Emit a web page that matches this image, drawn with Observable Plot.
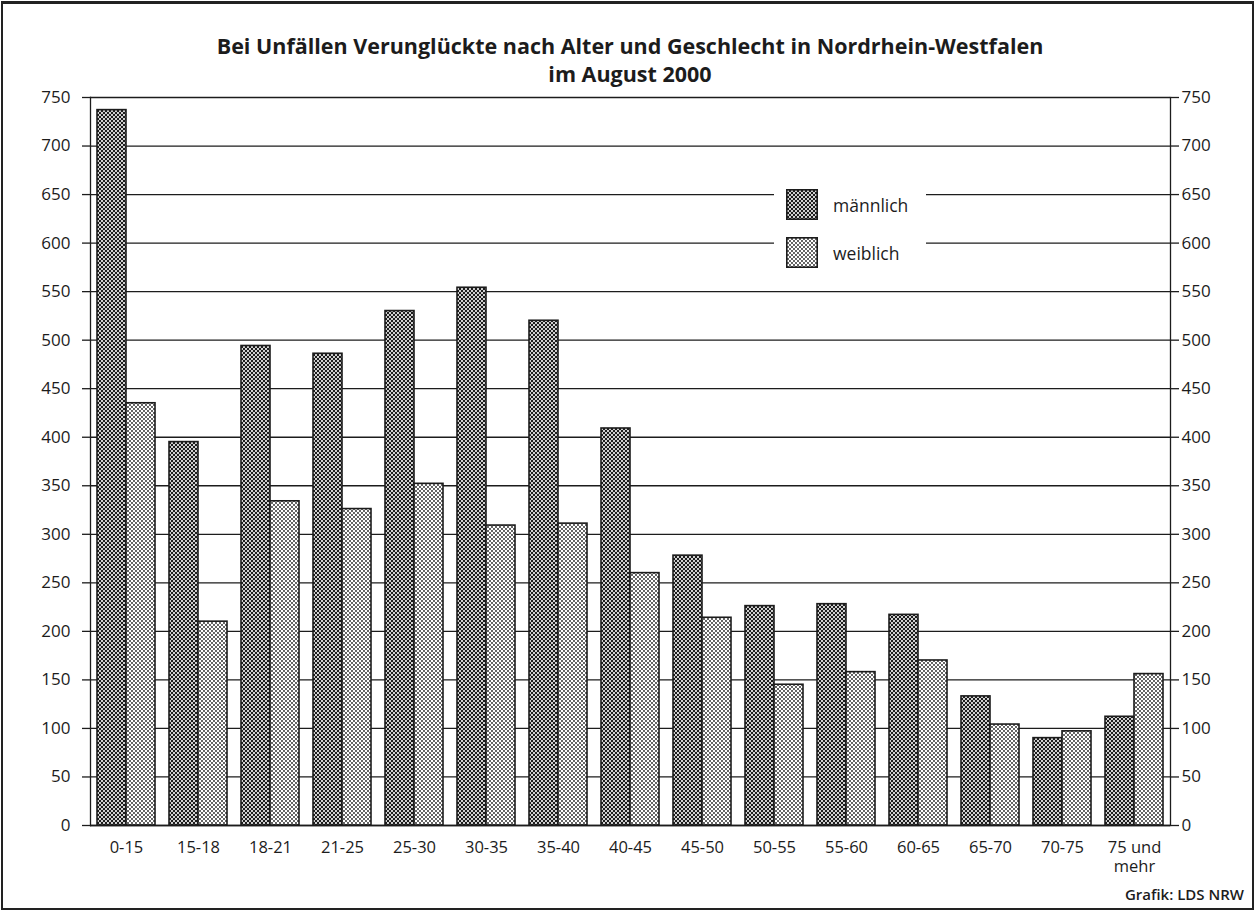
<!DOCTYPE html>
<html>
<head>
<meta charset="utf-8">
<script src="https://cdn.jsdelivr.net/npm/d3@7"></script>
<script src="https://cdn.jsdelivr.net/npm/@observablehq/plot@0.6"></script>
<style>
  html, body { margin: 0; padding: 0; background: #fff; }
  #wrap { position: relative; width: 1255px; height: 917px; font-family: "Open Sans", "Noto Sans", sans-serif; color: #1c1c1c; }
  #border { position: absolute; left: 1px; top: 1px; width: 1249px; height: 904px; border: 2px solid #222; border-top-width: 3px; }
  #title { position: absolute; left: 88px; width: 1084px; top: 32px; text-align: center; font-weight: 700; font-size: 21.5px; line-height: 28px; }
  #chart { position: absolute; left: 0; top: 85px; }
  #legend { position: absolute; left: 774px; top: 176px; width: 152px; height: 104px; background: #fff; }
  .item { position: absolute; left: 12px; display: flex; align-items: center; font-size: 17.5px; }
  .item svg { margin-right: 15px; }
  #credit { position: absolute; right: 11px; top: 884px; font-size: 15px; font-weight: 600; }
</style>
</head>
<body>
<svg width="0" height="0" style="position:absolute">
  <defs>
    <pattern id="patM" patternUnits="userSpaceOnUse" width="4" height="4">
      <rect width="4" height="4" fill="#1c1c1c"></rect>
      <circle cx="0" cy="0" r="1.05" fill="#fff"></circle>
      <circle cx="4" cy="0" r="1.05" fill="#fff"></circle>
      <circle cx="0" cy="4" r="1.05" fill="#fff"></circle>
      <circle cx="4" cy="4" r="1.05" fill="#fff"></circle>
      <circle cx="2" cy="2" r="1.05" fill="#fff"></circle>
    </pattern>
    <pattern id="patW" patternUnits="userSpaceOnUse" width="4" height="4">
      <rect width="4" height="4" fill="#fff"></rect>
      <circle cx="0" cy="0" r="0.9" fill="#1c1c1c"></circle>
      <circle cx="4" cy="0" r="0.9" fill="#1c1c1c"></circle>
      <circle cx="0" cy="4" r="0.9" fill="#1c1c1c"></circle>
      <circle cx="4" cy="4" r="0.9" fill="#1c1c1c"></circle>
      <circle cx="2" cy="2" r="0.9" fill="#1c1c1c"></circle>
    </pattern>
  </defs>
</svg>
<div id="wrap">
  <div id="border"></div>
  <div id="title">Bei Unfällen Verunglückte nach Alter und Geschlecht in Nordrhein-Westfalen<br>im August 2000</div>
  <div id="chart"></div>
  <div id="legend"></div>
  <div id="credit">Grafik: LDS NRW</div>
</div>
<script>
const ageGroups = ["0-15", "15-18", "18-21", "21-25", "25-30", "30-35", "35-40", "40-45", "45-50", "50-55", "55-60", "60-65", "65-70", "70-75", "75 und mehr"];
const maennlich = [737, 395, 494, 486, 530, 554, 520, 409, 278, 226, 228, 217, 133, 90, 112];
const weiblich  = [435, 210, 334, 326, 352, 309, 311, 260, 214, 145, 158, 170, 104, 97, 156];
const seriesNames = ["männlich", "weiblich"];
const seriesFills = ["url(#patM)", "url(#patW)"];
const yTicks = d3.range(0, 751, 50);

const rows = [];
ageGroups.forEach((g, i) => {
  rows.push({age: g, sex: seriesNames[0], value: maennlich[i]});
  rows.push({age: g, sex: seriesNames[1], value: weiblich[i]});
});

const ink = "#1c1c1c";
const chart = Plot.plot({
  width: 1255,
  height: 800,
  marginTop: 12,
  marginBottom: 60,
  marginLeft: 88,
  marginRight: 83,
  style: {fontFamily: "'Open Sans', 'Noto Sans', sans-serif", fontSize: "17px", color: ink, background: "transparent"},
  fx: {domain: ageGroups, padding: 0, label: null},
  x: {domain: seriesNames, paddingInner: 0, paddingOuter: 0.238, axis: null},
  y: {domain: [0, 750], label: null},
  marks: [
    Plot.ruleY(yTicks, {stroke: ink, strokeWidth: 1.3}),
    Plot.barY(rows, {fx: "age", x: "sex", y: "value", fill: (d) => seriesFills[seriesNames.indexOf(d.sex)], stroke: ink, strokeWidth: 1.6}),
    Plot.ruleY([0], {stroke: ink, strokeWidth: 1.6}),
    Plot.frame({anchor: "left", facetAnchor: "left", stroke: ink, strokeWidth: 1.3}),
    Plot.frame({anchor: "right", facetAnchor: "right", stroke: ink, strokeWidth: 1.3}),
    Plot.axisY(yTicks, {anchor: "left", tickSize: 8, tickPadding: 12, stroke: ink, strokeWidth: 1.3, fill: ink, fontSize: 17, label: null}),
    Plot.axisY(yTicks, {anchor: "right", tickSize: 8, tickPadding: 3, stroke: ink, strokeWidth: 1.3, fill: ink, fontSize: 17, label: null}),
    Plot.axisFx({anchor: "bottom", tickSize: 0, tickPadding: 13, fill: ink, fontSize: 16.5, label: null, lineHeight: 1.2,
      tickFormat: (d) => d.replace(" mehr", "\nmehr")})
  ]
});
document.getElementById("chart").appendChild(chart);

const legend = document.getElementById("legend");
seriesNames.forEach((name, i) => {
  const item = document.createElement("div");
  item.className = "item";
  item.style.top = (i === 0 ? 13 : 61) + "px";
  item.innerHTML = `<svg width="32" height="31"><rect x="0.8" y="0.8" width="30.4" height="29.4" fill="${seriesFills[i]}" stroke="${ink}" stroke-width="1.6"></rect></svg><span>${name}</span>`;
  legend.appendChild(item);
});
</script>
</body>
</html>
